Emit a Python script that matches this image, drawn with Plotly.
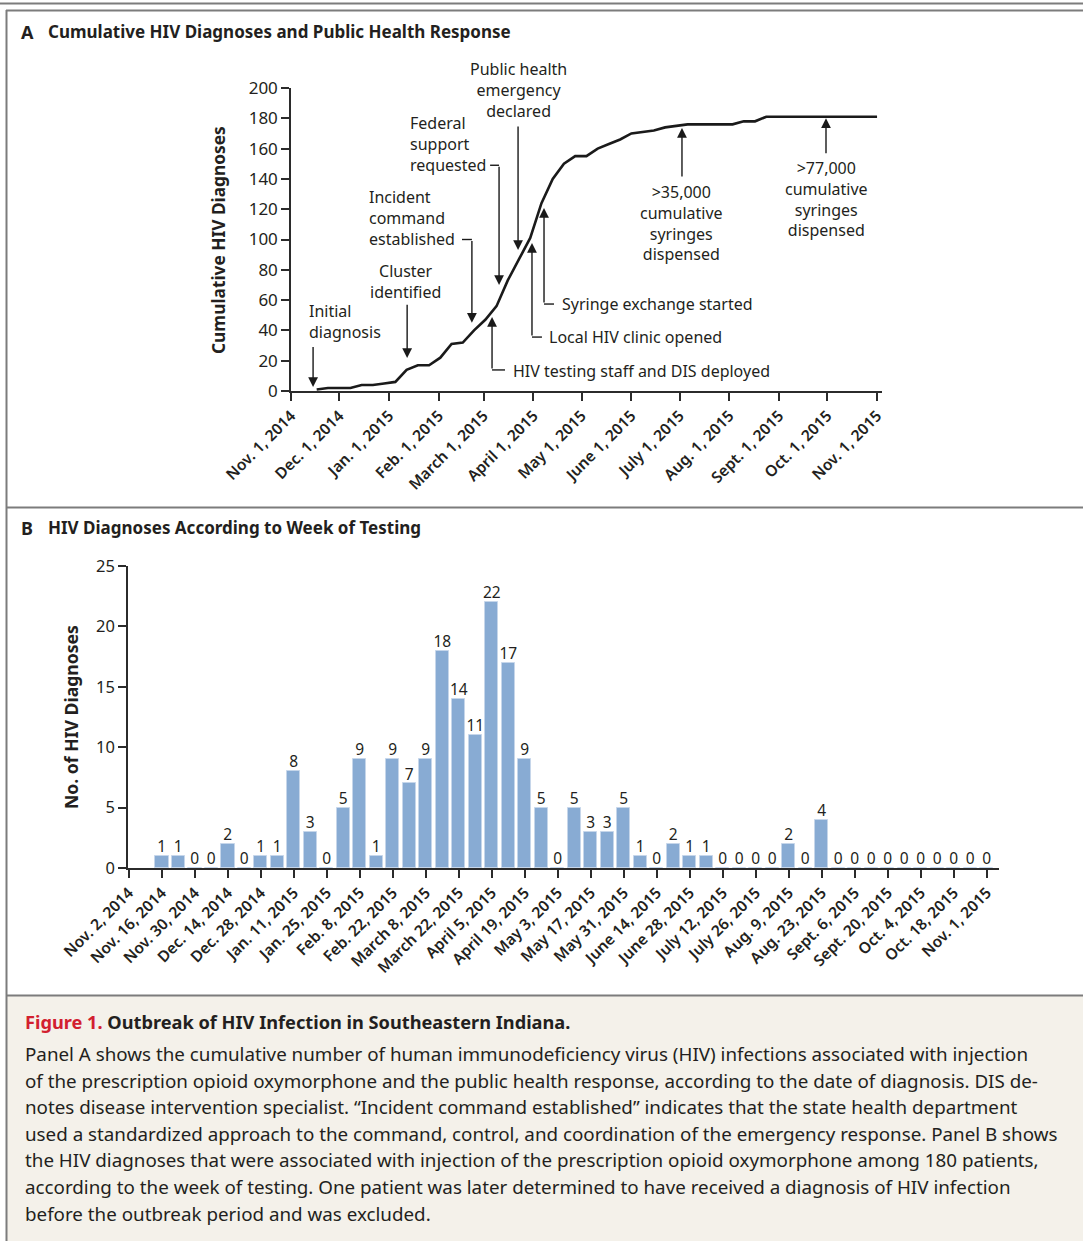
import plotly.graph_objects as go

W, H = 1083, 1241
FONT = "Noto Sans"
INK = "#231f20"

# ---------------- Panel A data ----------------
cum_dates = ["2014-11-17", "2014-11-24", "2014-12-01", "2014-12-08", "2014-12-15", "2014-12-22",
             "2014-12-29", "2015-01-05", "2015-01-12", "2015-01-19", "2015-01-26", "2015-02-02",
             "2015-02-09", "2015-02-16", "2015-02-23", "2015-03-02", "2015-03-09", "2015-03-16",
             "2015-03-23", "2015-03-30", "2015-04-06", "2015-04-13", "2015-04-20", "2015-04-27",
             "2015-05-04", "2015-05-11", "2015-05-18", "2015-05-25", "2015-06-01", "2015-06-08",
             "2015-06-15", "2015-06-22", "2015-06-29", "2015-07-06", "2015-07-13", "2015-07-20",
             "2015-07-27", "2015-08-03", "2015-08-10", "2015-08-17", "2015-08-24", "2015-08-31",
             "2015-09-07", "2015-09-14", "2015-09-21", "2015-09-28", "2015-10-05", "2015-10-12",
             "2015-10-19", "2015-10-26", "2015-11-01"]
cum_values = [1, 2, 2, 2, 4, 4,
              5, 6, 14, 17, 17, 22,
              31, 32, 40, 47, 56, 73,
              87, 101, 124, 140, 150, 155,
              155, 160, 163, 166, 170, 171,
              172, 174, 175, 176, 176, 176,
              176, 176, 178, 178, 181, 181,
              181, 181, 181, 181, 181, 181,
              181, 181, 181]

a_tickvals = ["2014-11-01", "2014-12-01", "2015-01-01", "2015-02-01", "2015-03-01", "2015-04-01",
              "2015-05-01", "2015-06-01", "2015-07-01", "2015-08-01", "2015-09-01", "2015-10-01",
              "2015-11-01"]
a_ticktext = ["Nov. 1, 2014", "Dec. 1, 2014", "Jan. 1, 2015", "Feb. 1, 2015", "March 1, 2015",
              "April 1, 2015", "May 1, 2015", "June 1, 2015", "July 1, 2015", "Aug. 1, 2015",
              "Sept. 1, 2015", "Oct. 1, 2015", "Nov. 1, 2015"]
a_yticks = [0, 20, 40, 60, 80, 100, 120, 140, 160, 180, 200]

# events: arrow x (date), arrow head value, arrow tail value
event_dates = ["2014-11-14 18:00", "2015-01-12 08:00", "2015-02-21 16:00", "2015-03-10 14:00",
               "2015-03-22 10:00", "2015-03-06 05:00", "2015-03-31 02:00", "2015-04-07 14:00",
               "2015-07-02 12:00", "2015-09-30 05:00"]
event_head = [2.6, 21.8, 45, 70, 93, 48.8, 97.7, 120.8, 173.6, 180]
event_tail = [30, 58, 100, 149, 175.6, 13.9, 35.6, 57.4, 140.6, 156]
# elbow ends (horizontal connector to the label)
elbow_from = [None, None, "2015-02-15 12:00", "2015-03-05 00:00", None,
              "2015-03-14 07:00", "2015-04-06 07:00", "2015-04-13 19:00", None, None]

label_texts = ["Initial<br>diagnosis", "Cluster<br>identified", "Incident<br>command<br>established",
               "Federal<br>support<br>requested", "Public health<br>emergency<br>declared",
               "HIV testing staff and DIS deployed", "Local HIV clinic opened",
               "Syringe exchange started",
               ">35,000<br>cumulative<br>syringes<br>dispensed",
               ">77,000<br>cumulative<br>syringes<br>dispensed"]
label_x = ["2014-11-11", "2015-01-11 12:00", "2014-12-18 08:00", "2015-01-12 22:00",
           "2015-03-22 10:00", "2015-03-18 00:00", "2015-04-09 10:00", "2015-04-17 12:00",
           "2015-07-02 12:00", "2015-09-30 05:00"]
label_y = [46, 72.3, 114, 163, 199, 13.2, 35.6, 57.4, 111, 126.7]
label_anchor = ["left", "center", "left", "left", "center", "left", "left", "left", "center", "center"]

# ---------------- Panel B data ----------------
week_dates = ["2014-11-16", "2014-11-23", "2014-11-30", "2014-12-07", "2014-12-14", "2014-12-21",
              "2014-12-28", "2015-01-04", "2015-01-11", "2015-01-18", "2015-01-25", "2015-02-01",
              "2015-02-08", "2015-02-15", "2015-02-22", "2015-03-01", "2015-03-08", "2015-03-15",
              "2015-03-22", "2015-03-29", "2015-04-05", "2015-04-12", "2015-04-19", "2015-04-26",
              "2015-05-03", "2015-05-10", "2015-05-17", "2015-05-24", "2015-05-31", "2015-06-07",
              "2015-06-14", "2015-06-21", "2015-06-28", "2015-07-05", "2015-07-12", "2015-07-19",
              "2015-07-26", "2015-08-02", "2015-08-09", "2015-08-16", "2015-08-23", "2015-08-30",
              "2015-09-06", "2015-09-13", "2015-09-20", "2015-09-27", "2015-10-04", "2015-10-11",
              "2015-10-18", "2015-10-25", "2015-11-01"]
week_counts = [1, 1, 0, 0, 2, 0,
               1, 1, 8, 3, 0, 5,
               9, 1, 9, 7, 9, 18,
               14, 11, 22, 17, 9, 5,
               0, 5, 3, 3, 5, 1,
               0, 2, 1, 1, 0, 0,
               0, 0, 2, 0, 4, 0,
               0, 0, 0, 0, 0, 0,
               0, 0, 0]

b_tickvals = ["2014-11-02", "2014-11-16", "2014-11-30", "2014-12-14", "2014-12-28", "2015-01-11",
              "2015-01-25", "2015-02-08", "2015-02-22", "2015-03-08", "2015-03-22", "2015-04-05",
              "2015-04-19", "2015-05-03", "2015-05-17", "2015-05-31", "2015-06-14", "2015-06-28",
              "2015-07-12", "2015-07-26", "2015-08-09", "2015-08-23", "2015-09-06", "2015-09-20",
              "2015-10-04", "2015-10-18", "2015-11-01"]
b_ticktext = ["Nov. 2, 2014", "Nov. 16, 2014", "Nov. 30, 2014", "Dec. 14, 2014", "Dec. 28, 2014",
              "Jan. 11, 2015", "Jan. 25, 2015", "Feb. 8, 2015", "Feb. 22, 2015", "March 8, 2015",
              "March 22, 2015", "April 5, 2015", "April 19, 2015", "May 3, 2015", "May 17, 2015",
              "May 31, 2015", "June 14, 2015", "June 28, 2015", "July 12, 2015", "July 26, 2015",
              "Aug. 9, 2015", "Aug. 23, 2015", "Sept. 6, 2015", "Sept. 20, 2015", "Oct. 4, 2015",
              "Oct. 18, 2015", "Nov. 1, 2015"]
b_yticks = [0, 5, 10, 15, 20, 25]

caption_title = "Outbreak of HIV Infection in Southeastern Indiana."
caption_lines = [
    "Panel A shows the cumulative number of human immunodeficiency virus (HIV) infections associated with injection",
    "of the prescription opioid oxymorphone and the public health response, according to the date of diagnosis. DIS de-",
    "notes disease intervention specialist. “Incident command established” indicates that the state health department",
    "used a standardized approach to the command, control, and coordination of the emergency response. Panel B shows",
    "the HIV diagnoses that were associated with injection of the prescription opioid oxymorphone among 180 patients,",
    "according to the week of testing. One patient was later determined to have received a diagnosis of HIV infection",
    "before the outbreak period and was excluded.",
]


def px(x):
    return x / W


def py(y):
    return 1 - y / H


domA_x = [px(291), px(882)]
domA_y = [py(391), py(88)]
domB_x = [px(128), px(999)]
domB_y = [py(868), py(566)]
ppu_A = (domA_y[1] - domA_y[0]) * H / 200.0

fig = go.Figure()

fig.add_trace(go.Scatter(x=cum_dates, y=cum_values, mode="lines",
                         line=dict(color="#1a1a1a", width=2.6),
                         xaxis="x", yaxis="y", showlegend=False, hoverinfo="skip"))

fig.add_trace(go.Bar(x=week_dates, y=week_counts, width=5.7 * 86400000,
                     marker=dict(color="#88abd3", line=dict(color="#c6d6ea", width=1)),
                     xaxis="x2", yaxis="y2", showlegend=False, hoverinfo="skip"))
fig.add_trace(go.Scatter(x=week_dates, y=week_counts, mode="text",
                         text=[str(v) for v in week_counts], textposition="top center",
                         textfont=dict(family=FONT, size=15.5, color=INK),
                         xaxis="x2", yaxis="y2", showlegend=False, hoverinfo="skip",
                         cliponaxis=False))

axis_common = dict(showgrid=False, zeroline=False, showline=True, linecolor="#2b2b2b",
                   linewidth=1.5, ticks="outside", ticklen=8, tickwidth=1.5, tickcolor="#2b2b2b",
                   automargin=False)

fig.update_layout(
    template="none",
    width=W, height=H, margin=dict(l=0, r=0, t=0, b=0, pad=0, autoexpand=False),
    paper_bgcolor="white", plot_bgcolor="rgba(0,0,0,0)",
    font=dict(family=FONT, color=INK),
    xaxis=dict(domain=domA_x, type="date", range=["2014-11-01", "2015-11-04 02:00"],
               tickmode="array", tickvals=a_tickvals, ticktext=a_ticktext, tickangle=-45,
               tickfont=dict(family=FONT, size=15.5, color=INK, weight=600),
               anchor="y", **axis_common),
    yaxis=dict(domain=domA_y, range=[0, 200], tickmode="array", tickvals=a_yticks,
               tickfont=dict(family=FONT, size=17, color=INK), anchor="x", **axis_common),
    xaxis2=dict(domain=domB_x, type="date", range=["2014-11-01 16:00", "2015-11-06 05:00"],
                tickmode="array", tickvals=b_tickvals, ticktext=b_ticktext, tickangle=-45,
                tickfont=dict(family=FONT, size=15.5, color=INK, weight=600),
                anchor="y2", **axis_common),
    yaxis2=dict(domain=domB_y, range=[0, 25], tickmode="array", tickvals=b_yticks,
                tickfont=dict(family=FONT, size=16.5, color=INK), anchor="x2", **axis_common),
    bargap=0,
)

shapes = []
GREY = "#7c7c7c"
# caption background
shapes.append(dict(type="rect", xref="paper", yref="paper", x0=px(7), x1=1, y0=0, y1=py(996),
                   fillcolor="#f4f1ea", line=dict(width=0), layer="below"))
# frame lines
shapes.append(dict(type="line", xref="paper", yref="paper", x0=0, x1=1, y0=py(3.5), y1=py(3.5),
                   line=dict(color=GREY, width=2)))
shapes.append(dict(type="line", xref="paper", yref="paper", x0=px(6), x1=1, y0=py(10.5), y1=py(10.5),
                   line=dict(color=GREY, width=2)))
shapes.append(dict(type="line", xref="paper", yref="paper", x0=px(6.5), x1=px(6.5), y0=0, y1=py(10),
                   line=dict(color=GREY, width=2)))
shapes.append(dict(type="line", xref="paper", yref="paper", x0=px(6), x1=1, y0=py(507.5), y1=py(507.5),
                   line=dict(color=GREY, width=2)))
shapes.append(dict(type="line", xref="paper", yref="paper", x0=px(6), x1=1, y0=py(995.5), y1=py(995.5),
                   line=dict(color=GREY, width=2)))

annotations = []
# event arrows and elbows
for d, hv, tv, ef in zip(event_dates, event_head, event_tail, elbow_from):
    annotations.append(dict(x=d, y=hv, xref="x", yref="y", text="", showarrow=True,
                            ax=0, ay=(hv - tv) * ppu_A, axref="pixel", ayref="pixel",
                            arrowhead=2, arrowsize=1.4, arrowwidth=1.4, arrowcolor="#1a1a1a",
                            standoff=0))
    if ef is not None:
        shapes.append(dict(type="line", xref="x", yref="y", x0=ef, x1=d, y0=tv, y1=tv,
                           line=dict(color="#1a1a1a", width=1.4)))

for t, x, y, anc in zip(label_texts, label_x, label_y, label_anchor):
    annotations.append(dict(x=x, y=y, xref="x", yref="y", text=t, showarrow=False,
                            xanchor=anc, yanchor="middle", align=anc,
                            font=dict(family=FONT, size=16, color=INK)))

# panel titles
annotations.append(dict(x=px(19), y=py(32), xref="paper", yref="paper", text="<b>A</b>",
                        showarrow=False, xanchor="left", yanchor="middle",
                        font=dict(family=FONT, size=18, color=INK)))
annotations.append(dict(x=px(46), y=py(32), xref="paper", yref="paper",
                        text="<b>Cumulative HIV Diagnoses and Public Health Response</b>",
                        showarrow=False, xanchor="left", yanchor="middle",
                        font=dict(family=FONT, size=17, color=INK)))
annotations.append(dict(x=px(19), y=py(528), xref="paper", yref="paper", text="<b>B</b>",
                        showarrow=False, xanchor="left", yanchor="middle",
                        font=dict(family=FONT, size=18, color=INK)))
annotations.append(dict(x=px(46), y=py(528), xref="paper", yref="paper",
                        text="<b>HIV Diagnoses According to Week of Testing</b>",
                        showarrow=False, xanchor="left", yanchor="middle",
                        font=dict(family=FONT, size=17, color=INK)))
# y-axis titles
annotations.append(dict(x=px(218), y=py(240), xref="paper", yref="paper",
                        text="<b>Cumulative HIV Diagnoses</b>", textangle=-90, showarrow=False,
                        xanchor="center", yanchor="middle",
                        font=dict(family=FONT, size=17.3, color=INK)))
annotations.append(dict(x=px(71), y=py(717), xref="paper", yref="paper",
                        text="<b>No. of HIV Diagnoses</b>", textangle=-90, showarrow=False,
                        xanchor="center", yanchor="middle",
                        font=dict(family=FONT, size=17.6, color=INK)))
# caption
annotations.append(dict(x=px(23), y=py(1022), xref="paper", yref="paper",
                        text="<b><span style='color:#d2202f'>Figure 1.</span> " + caption_title + "</b>",
                        showarrow=False, xanchor="left", yanchor="middle",
                        font=dict(family=FONT, size=18.2, color=INK)))
for i, line in enumerate(caption_lines):
    annotations.append(dict(x=px(23), y=py(1054 + i * 26.6), xref="paper", yref="paper",
                            text=line, showarrow=False, xanchor="left", yanchor="middle",
                            font=dict(family=FONT, size=18.8, color=INK)))

fig.update_layout(shapes=shapes, annotations=annotations)
fig.write_html("out.html", config={"displayModeBar": False},
               post_script="document.body.style.margin='0px';document.body.style.overflow='hidden';")
